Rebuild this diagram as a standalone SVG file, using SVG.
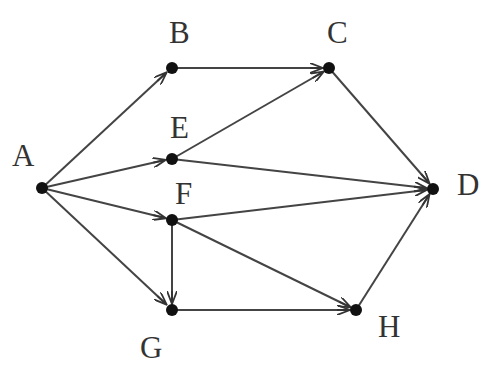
<svg xmlns="http://www.w3.org/2000/svg" width="483" height="365" viewBox="0 0 483 365">
<defs>
<marker id="arr" viewBox="0 0 14 10" refX="12" refY="5" markerWidth="14" markerHeight="10" markerUnits="userSpaceOnUse" orient="auto">
<path d="M0,0 L13,5 L0,10 M0,5 L13,5" fill="none" stroke="#333" stroke-width="1.8"/>
</marker>
</defs>
<style>
.e{stroke:#444;stroke-width:2;fill:none;marker-end:url(#arr)}
.n{fill:#111}
.t{font-family:"Liberation Serif",serif;font-size:31px;fill:#333}
</style>
<rect width="483" height="365" fill="#fff"/>
<g id="connectors">
<line class="e" x1="42" y1="188" x2="166" y2="73"/>
<line class="e" x1="42" y1="188" x2="165" y2="160"/>
<line class="e" x1="42" y1="188" x2="165" y2="218"/>
<line class="e" x1="42" y1="188" x2="166" y2="304"/>
<line class="e" x1="172" y1="68" x2="322" y2="68"/>
<line class="e" x1="172" y1="159" x2="323" y2="72"/>
<line class="e" x1="172" y1="159" x2="426" y2="188"/>
<line class="e" x1="172" y1="220" x2="426" y2="190"/>
<line class="e" x1="172" y1="220" x2="172" y2="303"/>
<line class="e" x1="172" y1="220" x2="350" y2="307"/>
<line class="e" x1="172" y1="310" x2="349" y2="310"/>
<line class="e" x1="329" y1="68" x2="429" y2="183"/>
<line class="e" x1="356" y1="310" x2="429" y2="195"/>
</g>
<g id="A"><circle class="n" cx="42" cy="188" r="6"/><text class="t" x="12" y="166">A</text></g>
<g id="B"><circle class="n" cx="172" cy="68" r="6"/><text class="t" x="169" y="43">B</text></g>
<g id="C"><circle class="n" cx="329" cy="68" r="6"/><text class="t" x="327" y="43">C</text></g>
<g id="E"><circle class="n" cx="172" cy="159" r="6"/><text class="t" x="170" y="138">E</text></g>
<g id="F"><circle class="n" cx="172" cy="220" r="6"/><text class="t" x="175" y="204">F</text></g>
<g id="D"><circle class="n" cx="433" cy="189" r="6"/><text class="t" x="457" y="195">D</text></g>
<g id="G"><circle class="n" cx="172" cy="310" r="6"/><text class="t" x="140" y="358">G</text></g>
<g id="H"><circle class="n" cx="356" cy="310" r="6"/><text class="t" x="378" y="337">H</text></g>
</svg>
